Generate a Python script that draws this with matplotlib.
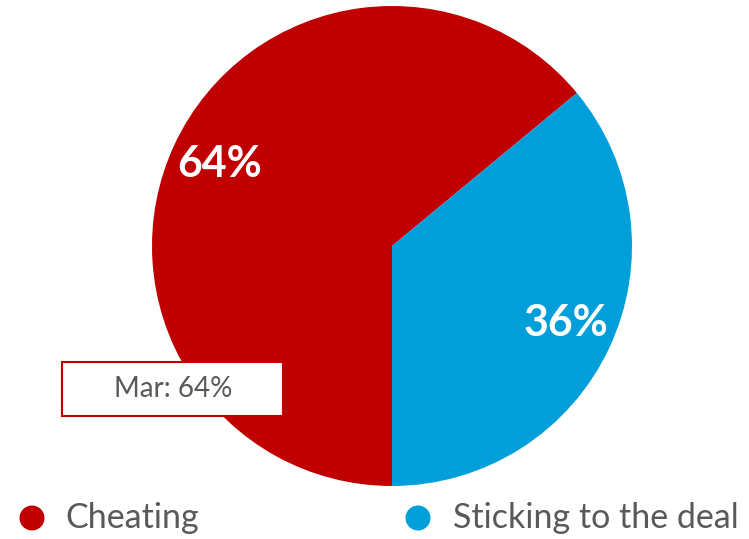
import numpy as np
import matplotlib.pyplot as plt
from matplotlib.patches import Rectangle, Ellipse

labels = ['Cheating', 'Sticking to the deal']
shares = [64, 36]
colors = ['#C00000', '#009FDA']
tip_text = 'Mar: 64%'

plt.rcParams['font.family'] = ['Lato', 'DejaVu Sans']

W, H = 749, 539
fig = plt.figure(figsize=(W / 100, H / 100), dpi=100)

# pie axes: centre (392, 246) px, radius 240 px
cx, cy, r = 392, 246, 240
ax = fig.add_axes([(cx - r) / W, (H - cy - r) / H, 2 * r / W, 2 * r / H])
wedges, _ = ax.pie(shares, colors=colors, startangle=-90, counterclock=False,
                   radius=1.0, wedgeprops=dict(linewidth=0))
ax.set_xlim(-1, 1)
ax.set_ylim(-1, 1)
ax.set_aspect('equal')
ax.axis('off')

# percentage labels
pos = [(-0.717, 0.34), (0.725, -0.32)]
for (x, y), v in zip(pos, shares):
    ax.text(x, y, '{}%'.format(v), color='white', fontsize=31, fontweight='bold',
            ha='center', va='center')

# tooltip box
fx = lambda px: px / W
fy = lambda py: 1 - py / H
fig.patches.append(Rectangle((fx(62), fy(416)), fx(283) - fx(62), fy(362) - fy(416),
                             transform=fig.transFigure, facecolor='white',
                             edgecolor='#C00000', linewidth=1.5, zorder=5))
fig.text(fx(173), fy(389), tip_text, color='#595959', fontsize=20,
         ha='center', va='center', zorder=6)

# legend
leg_pos = [(32, 65), (418, 453)]
for (mx, tx), lab, c in zip(leg_pos, labels, colors):
    fig.patches.append(Ellipse((fx(mx), fy(518)), 25 / W, 25 / H,
                               transform=fig.transFigure,
                               facecolor=c, edgecolor='none'))
    fig.text(fx(tx), fy(518), lab, color='#595959', fontsize=24.5,
             ha='left', va='center')

fig.savefig('out.png', dpi=100)
